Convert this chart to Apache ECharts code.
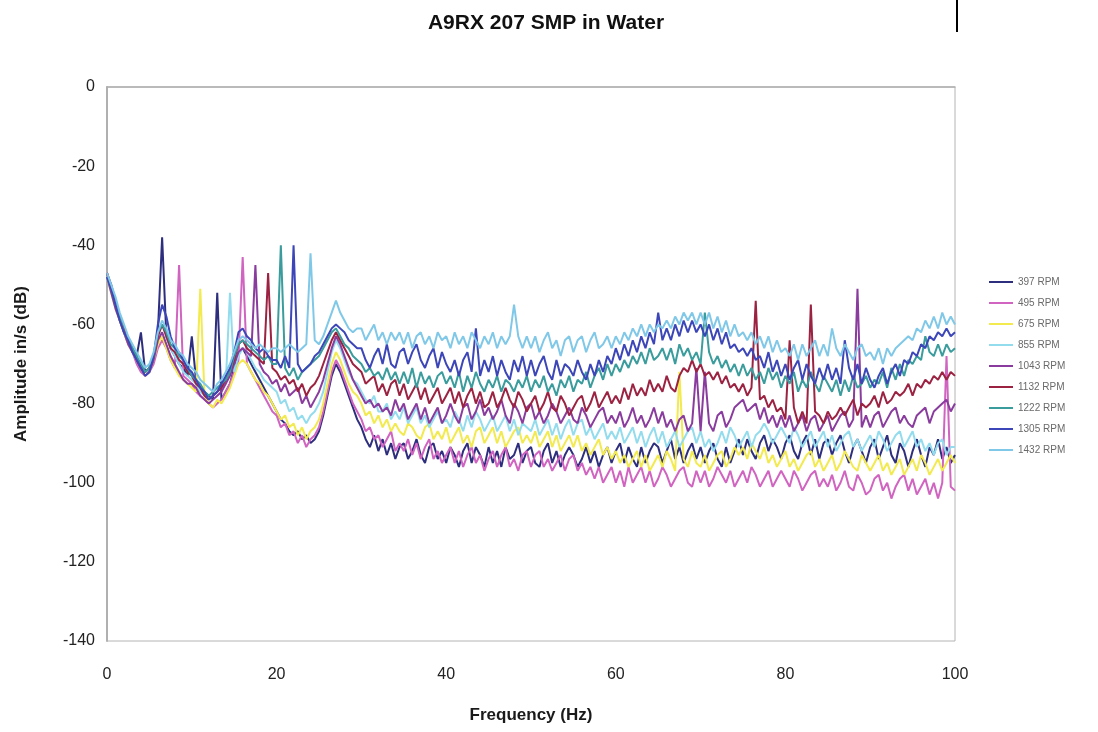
<!DOCTYPE html>
<html>
<head>
<meta charset="utf-8">
<title>A9RX 207 SMP in Water</title>
<script src="https://cdn.jsdelivr.net/npm/echarts@6/dist/echarts.min.js"></script>
<style>
  html, body { margin: 0; padding: 0; background: #ffffff; }
  #chart { width: 1098px; height: 732px; }
</style>
</head>
<body>
<div id="chart"></div>
<script>
// Vibration spectra, amplitude in dB (re 1 in/s) sampled every 0.5 Hz from 0 to 100 Hz.
const freqStepHz = 0.5;
const seriesNames = ['397 RPM', '495 RPM', '675 RPM', '855 RPM', '1043 RPM', '1132 RPM', '1222 RPM', '1305 RPM', '1432 RPM'];
const seriesColors = ['#2e2e7e', '#d064c0', '#f2ea4e', '#92dcee', '#8a3c9e', '#9c2242', '#3a9c9c', '#3c46b8', '#80c8e8'];

const rpm397 = [
  -47, -50, -54, -58, -61, -64, -66, -68, -62, -72,
  -71, -68, -62, -38, -63, -66, -68, -70, -71, -73,
  -63, -74, -76, -77, -78, -79, -52, -79, -77, -75,
  -71, -67, -66, -68, -70, -72, -74, -76, -78, -80,
  -82, -84, -85, -87, -88, -87, -89, -88, -90, -89,
  -87, -83, -78, -73, -70, -72, -75, -78, -81, -84,
  -86, -89, -91, -88, -92, -89, -93, -90, -94, -91,
  -90, -94, -92, -89, -93, -95, -91, -90, -94, -92,
  -95, -91, -93, -96, -92, -90, -95, -91, -93, -96,
  -91, -95, -92, -96, -91, -94, -93, -90, -95, -92,
  -91, -95, -96, -92, -90, -95, -92, -96, -93, -91,
  -93, -96, -94, -91, -95, -92, -96, -93, -91, -95,
  -92, -90, -95, -91, -94, -96, -91, -95, -92, -90,
  -91, -95, -92, -89, -94, -91, -95, -92, -90, -94,
  -91, -95, -92, -90, -94, -96, -91, -95, -92, -89,
  -93, -89, -92, -94, -90, -88, -92, -89, -91, -94,
  -90, -88, -92, -94, -90, -88, -93, -89, -94, -90,
  -89, -93, -90, -88, -92, -95, -91, -89, -92, -95,
  -91, -89, -94, -91, -88, -93, -95, -90, -92, -96,
  -92, -89, -93, -96, -91, -93, -89, -94, -91, -95,
  -93
];
const rpm495 = [
  -47, -51, -55, -59, -62, -65, -67, -70, -72, -73,
  -72, -70, -66, -64, -66, -69, -71, -45, -73, -74,
  -75, -77, -78, -79, -80, -81, -80, -79, -77, -75,
  -72, -69, -43, -70, -72, -74, -76, -78, -80, -82,
  -83, -86, -85, -88, -87, -90, -88, -91, -89, -88,
  -86, -82, -77, -72, -69, -71, -74, -77, -80, -82,
  -84, -87, -86, -89, -88, -91, -89, -87, -92, -90,
  -92, -89, -93, -90, -94, -91, -89, -94, -92, -95,
  -93, -91, -95, -92, -96, -93, -91, -95, -93, -97,
  -94, -92, -96, -93, -91, -96, -94, -97, -93, -92,
  -96, -93, -92, -96, -94, -97, -95, -93, -97, -94,
  -93, -97, -95, -98, -96, -99, -96, -100, -98, -96,
  -100, -97, -101, -96, -100, -98, -96, -100, -97, -101,
  -99, -96, -98, -101, -99, -97, -96, -100, -101, -97,
  -100, -97, -101, -99, -96, -98, -100, -97, -101, -99,
  -97, -100, -96, -98, -101, -99, -97, -101, -99, -97,
  -99, -101, -97, -99, -102, -100, -98, -97, -101, -99,
  -101, -98, -102, -100, -97, -101, -102, -98, -100, -103,
  -102, -99, -98, -102, -100, -104, -101, -99, -98, -102,
  -99, -103, -101, -99, -103, -100, -104, -100, -68, -101,
  -102
];
const rpm675 = [
  -48, -52, -56, -59, -62, -65, -67, -69, -71, -73,
  -72, -69, -65, -63, -66, -69, -71, -73, -74, -75,
  -76, -77, -51, -78, -80, -81, -79, -80, -78, -76,
  -73, -70, -69, -70, -72, -74, -75, -77, -78, -80,
  -82, -84, -83, -86, -85, -88, -86, -89, -87, -86,
  -84, -80, -75, -70, -67, -69, -72, -75, -77, -78,
  -80, -83, -82, -85, -83, -86, -84, -87, -85, -87,
  -88, -85, -86, -88, -89, -86, -85, -89, -87, -89,
  -86, -90, -88, -86, -90, -88, -91, -87, -86, -90,
  -88, -86, -90, -87, -91, -89, -87, -86, -90, -88,
  -90, -87, -91, -89, -87, -91, -88, -92, -90, -88,
  -91, -88, -92, -90, -93, -91, -89, -93, -91, -94,
  -92, -95, -93, -96, -94, -92, -96, -93, -97, -95,
  -93, -96, -92, -94, -97, -72, -94, -96, -92, -95,
  -96, -93, -97, -95, -93, -92, -96, -94, -91, -93,
  -91, -94, -90, -92, -94, -91, -95, -93, -96, -94,
  -92, -96, -94, -97, -95, -93, -92, -96, -94, -97,
  -95, -93, -97, -95, -92, -94, -96, -97, -93, -95,
  -97, -95, -93, -97, -95, -98, -96, -94, -98, -96,
  -94, -97, -93, -95, -98, -96, -94, -97, -95, -93,
  -95
];
const rpm855 = [
  -47, -51, -55, -58, -61, -64, -67, -69, -71, -72,
  -71, -68, -63, -60, -63, -66, -68, -70, -72, -73,
  -74, -75, -77, -78, -79, -78, -77, -76, -75, -52,
  -72, -68, -66, -67, -69, -71, -72, -74, -75, -76,
  -77, -80, -79, -82, -81, -84, -83, -85, -83, -82,
  -80, -77, -72, -67, -64, -66, -69, -72, -74, -75,
  -77, -79, -80, -78, -82, -82, -80, -84, -82, -84,
  -81, -85, -83, -81, -85, -83, -86, -84, -82, -85,
  -84, -86, -82, -84, -87, -83, -86, -82, -84, -87,
  -85, -83, -87, -85, -83, -87, -84, -88, -85, -86,
  -87, -84, -88, -86, -84, -88, -85, -89, -86, -84,
  -88, -85, -84, -88, -86, -89, -87, -85, -89, -87,
  -89, -86, -90, -88, -86, -90, -87, -91, -88, -86,
  -90, -87, -91, -89, -87, -91, -89, -87, -86, -90,
  -87, -91, -89, -92, -90, -87, -90, -86, -88, -91,
  -89, -87, -91, -88, -87, -85, -87, -90, -88, -86,
  -88, -90, -86, -88, -91, -89, -87, -91, -89, -87,
  -91, -88, -92, -90, -88, -87, -91, -89, -92, -90,
  -88, -91, -87, -89, -92, -90, -88, -87, -91, -89,
  -87, -91, -89, -92, -90, -93, -90, -89, -93, -91,
  -91
];
const rpm1043 = [
  -48, -52, -56, -59, -62, -65, -67, -69, -71, -73,
  -72, -69, -64, -62, -65, -68, -70, -72, -74, -75,
  -75, -76, -78, -79, -80, -79, -78, -77, -75, -73,
  -70, -67, -66, -67, -68, -45, -70, -72, -73, -75,
  -74, -77, -75, -78, -77, -76, -80, -78, -81, -79,
  -77, -74, -70, -66, -63, -65, -68, -71, -74, -76,
  -78, -80, -79, -81, -80, -82, -81, -83, -79, -82,
  -80, -84, -82, -80, -84, -81, -85, -83, -81, -85,
  -83, -80, -83, -85, -81, -80, -84, -82, -79, -83,
  -81, -84, -82, -79, -83, -85, -80, -82, -85, -81,
  -80, -84, -82, -85, -83, -80, -82, -85, -83, -81,
  -84, -85, -81, -83, -86, -84, -82, -81, -85, -83,
  -85, -82, -86, -84, -81, -85, -83, -86, -84, -81,
  -85, -82, -86, -84, -87, -84, -83, -87, -85, -71,
  -87, -72, -85, -87, -83, -82, -86, -84, -81, -80,
  -79, -82, -81, -80, -84, -81, -85, -83, -86, -83,
  -86, -83, -87, -85, -83, -87, -84, -83, -87, -85,
  -83, -87, -85, -83, -82, -86, -84, -51, -86, -83,
  -86, -83, -82, -86, -84, -82, -81, -85, -83, -85,
  -86, -83, -82, -81, -85, -82, -81, -80, -79, -82,
  -80
];
const rpm1132 = [
  -47, -51, -55, -58, -61, -64, -66, -69, -71, -72,
  -71, -68, -63, -60, -63, -66, -67, -69, -70, -72,
  -73, -75, -76, -78, -79, -78, -77, -76, -74, -72,
  -69, -65, -64, -66, -67, -68, -69, -70, -47, -71,
  -72, -74, -73, -75, -74, -77, -75, -78, -76, -75,
  -73, -70, -67, -64, -62, -64, -66, -68, -70, -71,
  -72, -75, -74, -73, -77, -75, -78, -75, -74, -78,
  -75, -79, -77, -75, -79, -76, -80, -78, -76, -80,
  -78, -76, -80, -77, -81, -78, -76, -80, -77, -81,
  -80, -77, -81, -79, -76, -79, -81, -77, -79, -82,
  -80, -78, -82, -80, -77, -81, -82, -78, -80, -83,
  -81, -79, -78, -82, -80, -77, -81, -79, -77, -80,
  -78, -80, -76, -79, -75, -78, -76, -78, -74, -77,
  -75, -77, -73, -76, -77, -73, -71, -72, -69, -72,
  -70, -73, -72, -74, -72, -75, -73, -76, -75, -77,
  -75, -78, -76, -54, -79, -78, -81, -79, -82, -81,
  -84, -64, -81, -85, -82, -85, -55, -82, -83, -85,
  -82, -84, -83, -81, -83, -81, -79, -83, -80, -81,
  -80, -78, -81, -77, -80, -79, -77, -78, -77, -75,
  -78, -75, -76, -74, -75, -73, -74, -72, -74, -72,
  -73
];
const rpm1222 = [
  -48, -51, -55, -58, -62, -64, -66, -68, -70, -72,
  -71, -68, -62, -60, -62, -65, -66, -68, -69, -71,
  -73, -74, -75, -77, -78, -77, -76, -75, -74, -72,
  -68, -65, -64, -65, -66, -67, -68, -69, -68, -70,
  -70, -40, -71, -73, -71, -74, -72, -71, -70, -69,
  -68, -66, -64, -62, -61, -63, -65, -66, -68, -69,
  -70, -72, -71, -73, -72, -74, -71, -74, -72, -75,
  -72, -75, -71, -76, -72, -75, -73, -76, -73, -72,
  -75, -73, -76, -72, -77, -73, -76, -72, -75, -77,
  -74, -76, -73, -77, -74, -75, -77, -74, -76, -73,
  -77, -74, -76, -73, -77, -75, -78, -74, -76, -73,
  -77, -74, -75, -72, -76, -73, -71, -74, -70, -73,
  -70, -72, -69, -71, -68, -70, -67, -70, -66, -69,
  -68, -66, -69, -66, -70, -65, -68, -66, -69, -67,
  -70, -57, -67, -70, -68, -71, -69, -72, -70, -73,
  -70, -73, -71, -74, -72, -75, -71, -74, -72, -76,
  -73, -75, -72, -77, -74, -76, -72, -75, -77, -73,
  -75, -77, -74, -78, -74, -77, -73, -76, -75, -73,
  -76, -74, -75, -72, -76, -71, -74, -70, -73, -69,
  -70, -68, -69, -63, -67, -68, -65, -68, -65, -67,
  -66
];
const rpm1305 = [
  -48, -51, -55, -59, -62, -64, -67, -69, -71, -73,
  -72, -68, -60, -55, -58, -63, -66, -67, -69, -71,
  -72, -74, -76, -77, -79, -78, -77, -75, -73, -71,
  -67, -62, -61, -63, -64, -66, -67, -66, -68, -69,
  -69, -71, -68, -71, -40, -70, -72, -71, -70, -68,
  -67, -65, -63, -61, -60, -61, -62, -64, -65, -66,
  -66, -69, -71, -68, -66, -70, -65, -70, -71, -67,
  -66, -70, -67, -65, -69, -71, -68, -66, -71, -67,
  -70, -72, -69, -73, -69, -67, -72, -61, -73, -69,
  -72, -68, -73, -69, -72, -74, -69, -72, -68, -73,
  -69, -73, -70, -68, -72, -74, -69, -73, -70, -71,
  -73, -69, -72, -74, -70, -73, -69, -72, -68, -70,
  -66, -69, -65, -68, -64, -67, -63, -66, -62, -65,
  -57, -64, -61, -64, -60, -63, -59, -62, -59, -62,
  -60, -63, -60, -64, -61, -65, -62, -66, -65, -67,
  -66, -68, -66, -69, -68, -71, -67, -72, -69, -73,
  -70, -74, -71, -69, -74, -70, -73, -75, -71, -74,
  -70, -74, -71, -75, -64, -71, -74, -70, -75, -71,
  -74, -76, -73, -71, -75, -72, -70, -73, -69, -70,
  -67, -68, -65, -66, -63, -64, -62, -63, -61, -63,
  -62
];
const rpm1432 = [
  -47, -50, -53, -57, -60, -63, -65, -67, -69, -71,
  -70, -67, -62, -59, -61, -64, -65, -67, -68, -70,
  -71, -72, -74, -75, -76, -77, -75, -74, -72, -70,
  -67, -64, -63, -64, -65, -66, -65, -66, -67, -66,
  -66, -67, -66, -65, -66, -67, -66, -65, -42, -64,
  -65, -63, -60, -57, -54, -57, -59, -61, -62, -61,
  -61, -64, -62, -60, -64, -62, -65, -62, -64, -62,
  -65, -62, -66, -63, -62, -65, -63, -66, -62, -64,
  -63, -66, -62, -65, -63, -66, -62, -64, -66, -63,
  -65, -62, -66, -63, -65, -63, -55, -63, -66, -63,
  -66, -63, -67, -64, -62, -66, -64, -68, -64, -63,
  -67, -64, -63, -67, -64, -62, -66, -65, -63, -66,
  -63, -65, -62, -64, -61, -63, -60, -63, -60, -62,
  -60, -61, -59, -61, -58, -60, -57, -59, -57, -60,
  -57, -60, -57, -61, -58, -62, -59, -63, -60, -63,
  -62, -64, -62, -65, -63, -66, -63, -67, -64, -67,
  -66, -68, -65, -69, -65, -68, -66, -64, -68, -65,
  -68, -61, -66, -68, -65, -67, -69, -66, -65, -68,
  -67, -69, -66, -70, -66, -68, -66, -65, -64, -63,
  -64, -61, -62, -59, -61, -58, -61, -57, -60, -58,
  -60
];

const seriesValues = [rpm397, rpm495, rpm675, rpm855, rpm1043, rpm1132, rpm1222, rpm1305, rpm1432];
const xTicks = [0, 20, 40, 60, 80, 100];
const yTicks = [-140, -120, -100, -80, -60, -40, -20, 0];

const chart = echarts.init(document.getElementById('chart'), null, { renderer: 'canvas' });

const series = seriesNames.map((name, k) => ({
  name: name,
  type: 'line',
  data: seriesValues[k].map((v, i) => [i * freqStepHz, v]),
  showSymbol: false,
  symbol: 'none',
  lineStyle: { width: 2, color: seriesColors[k] },
  itemStyle: { color: seriesColors[k] },
  z: 2 + k,
  emphasis: { disabled: true }
}));

const font = '"Liberation Sans", Arial, sans-serif';

chart.setOption({
  animation: false,
  backgroundColor: '#ffffff',
  title: {
    text: 'A9RX 207 SMP in Water',
    left: 541,
    top: 8,
    textAlign: 'center',
    textStyle: { fontFamily: font, fontSize: 21, fontWeight: 'bold', color: '#111111' }
  },
  legend: {
    orient: 'vertical',
    left: 984,
    top: 271,
    icon: 'rect',
    itemWidth: 24,
    itemHeight: 2,
    itemGap: 9,
    data: seriesNames,
    textStyle: { fontFamily: font, fontSize: 10, color: '#6a6a6a', lineHeight: 12 }
  },
  grid: {
    left: 107,
    right: 143,
    top: 87,
    bottom: 91,
    show: true,
    borderColor: '#b4b4b4',
    borderWidth: 1
  },
  xAxis: {
    type: 'value',
    min: xTicks[0],
    max: xTicks[xTicks.length - 1],
    interval: 20,
    name: 'Frequency (Hz)',
    nameLocation: 'middle',
    nameGap: 66,
    nameTextStyle: { fontFamily: font, fontSize: 17, fontWeight: 'bold', color: '#1a1a1a' },
    axisLine: { show: true, lineStyle: { color: '#b0b0b0', width: 1.5 } },
    axisTick: { show: false },
    splitLine: { show: false },
    axisLabel: { fontFamily: font, fontSize: 16, color: '#222', margin: 26 }
  },
  yAxis: {
    type: 'value',
    min: yTicks[0],
    max: yTicks[yTicks.length - 1],
    interval: 20,
    name: 'Amplitude in/s (dB)',
    nameLocation: 'middle',
    nameGap: 77,
    nameRotate: 90,
    nameTextStyle: { fontFamily: font, fontSize: 17, fontWeight: 'bold', color: '#1a1a1a' },
    axisLine: { show: true, lineStyle: { color: '#b0b0b0', width: 2 } },
    axisTick: { show: false },
    splitLine: { show: false },
    axisLabel: { fontFamily: font, fontSize: 16, color: '#222', margin: 12 }
  },
  graphic: [{
    type: 'line',
    shape: { x1: 957, y1: 0, x2: 957, y2: 32 },
    style: { stroke: '#000000', lineWidth: 2 }
  }],
  series: series
});
</script>
</body>
</html>
